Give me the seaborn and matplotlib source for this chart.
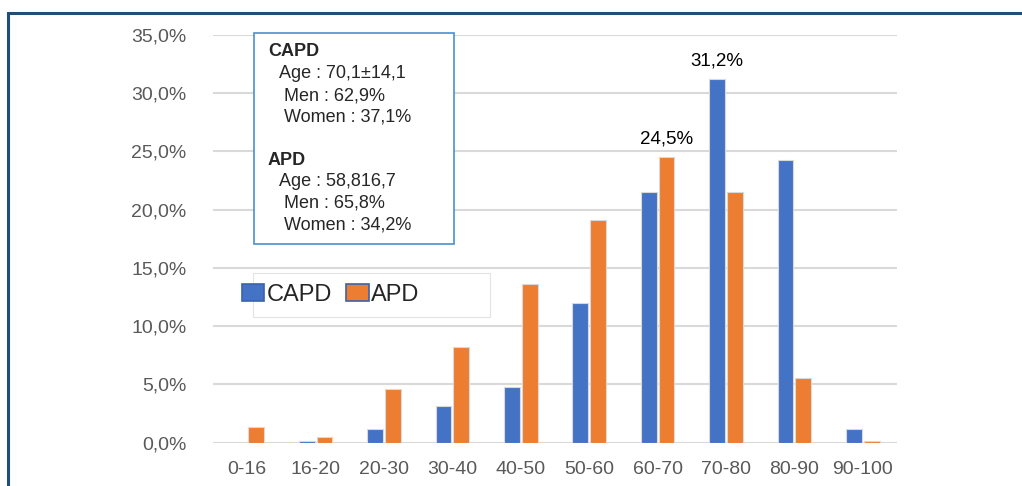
import pandas as pd
import matplotlib.pyplot as plt
import seaborn as sns
from matplotlib.patches import Rectangle, Patch
from matplotlib.ticker import FuncFormatter

# data (% of patients per age band)
age_bands = ['0-16', '16-20', '20-30', '30-40', '40-50', '50-60', '60-70', '70-80', '80-90', '90-100']
capd = [0.0, 0.1, 1.2, 3.1, 4.8, 12.0, 21.5, 31.2, 24.3, 1.2]
apd = [1.3, 0.5, 4.6, 8.2, 13.6, 19.1, 24.5, 21.5, 5.5, 0.1]
groups = ['CAPD', 'APD']
colors = ['#4472C4', '#ED7D31']
capd_labels = ['', '', '', '', '', '', '', '31,2%', '', '']
apd_labels = ['', '', '', '', '', '', '24,5%', '', '', '']

df = pd.DataFrame({
    'age': age_bands * 2,
    'pct': capd + apd,
    'group': ['CAPD'] * len(capd) + ['APD'] * len(apd),
})

sns.set_style('white')
plt.rcParams['font.family'] = ['Liberation Sans', 'DejaVu Sans']

W, H = 1022, 486
fig = plt.figure(figsize=(W / 100, H / 100), dpi=100)
ax = fig.add_axes([213 / W, 1 - 442.5 / H, (897 - 213) / W, (442.5 - 35) / H])

sns.barplot(data=df, x='age', y='pct', hue='group', hue_order=groups,
            palette=colors, saturation=1, width=0.52, gap=0.12, edgecolor='#D9D9D9',
            linewidth=0.8, ax=ax, legend=False, zorder=3)

ax.set_ylim(0, 35)
ax.set_yticks(range(0, 36, 5))
ax.yaxis.set_major_formatter(FuncFormatter(lambda v, p: f'{v:.1f}%'.replace('.', ',')))
ax.yaxis.grid(True, color='#D9D9D9', linewidth=1.5, zorder=0)
ax.set_axisbelow(True)
for s in ax.spines.values():
    s.set_visible(False)
ax.tick_params(axis='both', length=0, labelsize=14, labelcolor='#595959')
ax.tick_params(axis='y', pad=19)
ax.tick_params(axis='x', pad=13)
ax.set_xlabel('')
ax.set_ylabel('')

# data labels for the two highlighted bars
ax.bar_label(ax.containers[0], labels=capd_labels, padding=7, fontsize=13.5, color='black')
ax.bar_label(ax.containers[1], labels=apd_labels, padding=7, fontsize=13.5, color='black')

# legend with its own light frame
handles = [Patch(facecolor=c, edgecolor='#3A63AD', linewidth=1.2) for c in colors]
fig.legend(handles, groups, loc='center left', bbox_to_anchor=(242 / W, 1 - 295 / H),
           ncol=2, frameon=False, fontsize=17, handlelength=0.95, handleheight=0.75,
           handletextpad=0.1, columnspacing=0.6, borderpad=0, borderaxespad=0)
fig.patches.append(Rectangle((253 / W, 1 - 317 / H), (490 - 253) / W, (317 - 273) / H,
                             transform=fig.transFigure, facecolor='none',
                             edgecolor='#E3E3E3', linewidth=0.8))

# info box
fig.patches.append(Rectangle((254 / W, 1 - 244 / H), 200 / W, (244 - 33) / H,
                             transform=fig.transFigure, facecolor='white',
                             edgecolor='#4A90D0', linewidth=1.2, zorder=2))
lines = [
    (268, 52, 'CAPD', 'bold'),
    (279, 73, 'Age : 70,1±14,1', 'normal'),
    (284, 96, 'Men : 62,9%', 'normal'),
    (284, 117, 'Women : 37,1%', 'normal'),
    (268, 160, 'APD', 'bold'),
    (279, 182, 'Age : 58,816,7', 'normal'),
    (284, 203, 'Men : 65,8%', 'normal'),
    (284, 225, 'Women : 34,2%', 'normal'),
]
for x, y, t, w in lines:
    fig.text(x / W, 1 - y / H, t, fontsize=13, fontweight=w, va='center', ha='left', zorder=3)

# outer dark blue frame
fig.patches.append(Rectangle((7.5 / W, -0.1), 1.2, 1.1 - 13.5 / H,
                             transform=fig.transFigure, facecolor='none',
                             edgecolor='#1F4E79', linewidth=2.2, zorder=4))

fig.savefig('out.png', dpi=100)
